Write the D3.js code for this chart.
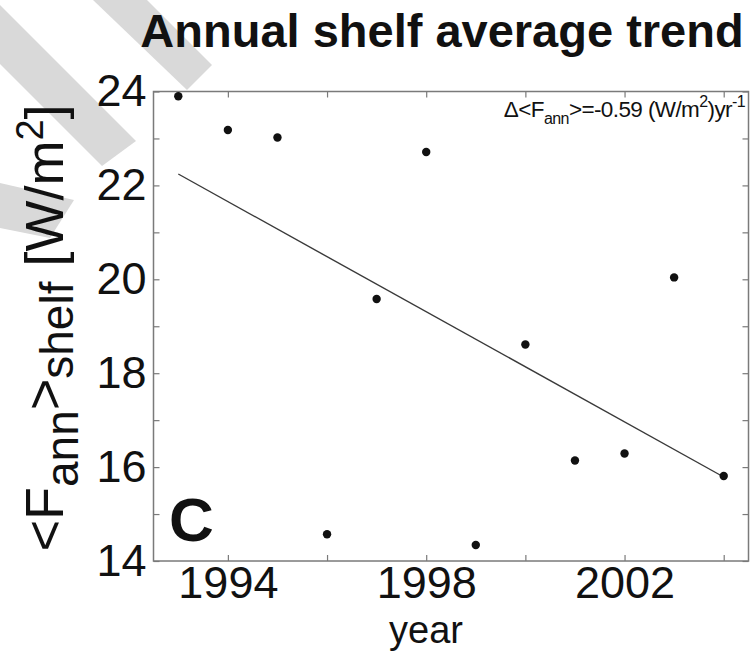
<!DOCTYPE html>
<html>
<head>
<meta charset="utf-8">
<script src="https://cdn.jsdelivr.net/npm/d3@7"></script>
<style>
  html, body { margin: 0; padding: 0; background: #fff; }
  svg { display: block; font-family: "Liberation Sans", Arial, Helvetica, sans-serif; }
</style>
</head>
<body>
<svg id="chart" width="756" height="652"></svg>
<script>
// ---- data ----
const years  = [1993, 1994, 1995, 1996, 1997, 1998, 1999, 2000, 2001, 2002, 2003, 2004];
const fluxes = [23.90, 23.18, 23.02, 14.57, 19.58, 22.71, 14.34, 18.61, 16.14, 16.29, 20.04, 15.81];
const xTicks = [1994, 1996, 1998, 2000, 2002, 2004];
const xTickLabels = [1994, 1998, 2002];
const yTicks = [14, 15, 16, 17, 18, 19, 20, 21, 22, 23, 24];
const yTickLabels = [14, 16, 18, 20, 22, 24];
const titleText = "Annual shelf average trend";
const trendText = "-0.59";
const panelLetter = "C";

// ---- decoration: gray diagonal stripes (watermark) ----
const stripes = [
  [[93,0],[147,0],[212,65],[187,90]],
  [[0,5],[136,141],[102,166],[0,64]],
  [[0,183],[74,200],[50,238],[0,228]]
];

const svg = d3.select("#chart");
const m = {left: 153.5, right: 748.5, top: 91.5, bottom: 561};

svg.append("g").selectAll("polygon").data(stripes).join("polygon")
  .attr("points", d => d.map(p => p.join(",")).join(" "))
  .attr("fill", "#d9d9d9");

const x = d3.scaleLinear().domain([1992.5, 2004.5]).range([m.left, m.right]);
const y = d3.scaleLinear().domain([14, 24]).range([m.bottom, m.top]);

const axisColor = "#7a7a7a";
const tickFont = 45;

function styleAxis(g) {
  g.select(".domain").remove();
  g.selectAll(".tick line").attr("stroke", axisColor).attr("stroke-width", 1.2);
  g.selectAll(".tick text").attr("fill", "#111").attr("font-size", tickFont)
    .attr("font-family", "'Liberation Sans', Arial, Helvetica, sans-serif");
}

// bottom
svg.append("g").attr("transform", `translate(0,${m.bottom})`)
  .call(d3.axisBottom(x).tickValues(xTicks).tickSizeInner(-6).tickSizeOuter(0).tickPadding(5)
    .tickFormat(d => xTickLabels.includes(d) ? String(d) : ""))
  .call(styleAxis);
// top
svg.append("g").attr("transform", `translate(0,${m.top})`)
  .call(d3.axisTop(x).tickValues(xTicks).tickSizeInner(-6).tickSizeOuter(0).tickFormat(""))
  .call(styleAxis);
// left
svg.append("g").attr("transform", `translate(${m.left},0)`)
  .call(d3.axisLeft(y).tickValues(yTicks).tickSizeInner(-6).tickSizeOuter(0).tickPadding(7)
    .tickFormat(d => yTickLabels.includes(d) ? String(d) : ""))
  .call(styleAxis);
// right
svg.append("g").attr("transform", `translate(${m.right},0)`)
  .call(d3.axisRight(y).tickValues(yTicks).tickSizeInner(-6).tickSizeOuter(0).tickFormat(""))
  .call(styleAxis);

// box
svg.append("rect")
  .attr("x", m.left).attr("y", m.top)
  .attr("width", m.right - m.left).attr("height", m.bottom - m.top)
  .attr("fill", "none").attr("stroke", axisColor).attr("stroke-width", 1.5);

// least-squares trend line from the data
const xm = d3.mean(years), ym = d3.mean(fluxes);
const slope = d3.sum(years, (v, i) => (v - xm) * (fluxes[i] - ym)) / d3.sum(years, v => (v - xm) ** 2);
const fit = v => ym + slope * (v - xm);
const ends = [d3.min(years), d3.max(years)];
svg.append("path")
  .datum(ends)
  .attr("d", d3.line().x(d => x(d)).y(d => y(fit(d))))
  .attr("fill", "none").attr("stroke", "#3a3a3a").attr("stroke-width", 1.4);

// points
svg.append("g").selectAll("circle").data(years).join("circle")
  .attr("cx", d => x(d)).attr("cy", (d, i) => y(fluxes[i]))
  .attr("r", 4.2).attr("fill", "#111");

// title
svg.append("text").attr("x", 442).attr("y", 47).attr("text-anchor", "middle")
  .attr("font-size", 47).attr("font-weight", "bold").attr("fill", "#111").text(titleText);

// x label
svg.append("text").attr("x", 426).attr("y", 642.5).attr("text-anchor", "middle")
  .attr("font-size", 38).attr("fill", "#111").text("year");

// y label
const yl = svg.append("text").attr("transform", "translate(63,328) rotate(-90)")
  .attr("text-anchor", "middle").attr("fill", "#111").attr("font-size", 54);
yl.append("tspan").text("<F");
yl.append("tspan").attr("font-size", 46).attr("dy", 15).text("ann");
yl.append("tspan").attr("dy", -15).text(">");
yl.append("tspan").attr("font-size", 46).attr("dy", 10).text("shelf");
yl.append("tspan").attr("dy", -10).text(" [W/m");
yl.append("tspan").attr("font-size", 38).attr("dy", -20).text("2");
yl.append("tspan").attr("dy", 20).text("]");

// annotation
const an = svg.append("text").attr("x", 745).attr("y", 117).attr("text-anchor", "end")
  .attr("font-size", 22.5).attr("letter-spacing", -0.6).attr("fill", "#111");
an.append("tspan").text("\u0394<F");
an.append("tspan").attr("font-size", 16).attr("dy", 7).text("ann");
an.append("tspan").attr("dy", -7).text(">=" + trendText + " (W/m");
an.append("tspan").attr("font-size", 16).attr("dy", -10).text("2");
an.append("tspan").attr("dy", 10).text(")yr");
an.append("tspan").attr("font-size", 16).attr("dy", -10).text("-1");

// panel letter
svg.append("text").attr("x", 169).attr("y", 541).attr("font-size", 62)
  .attr("font-weight", "bold").attr("fill", "#111").text(panelLetter);
</script>
</body>
</html>
